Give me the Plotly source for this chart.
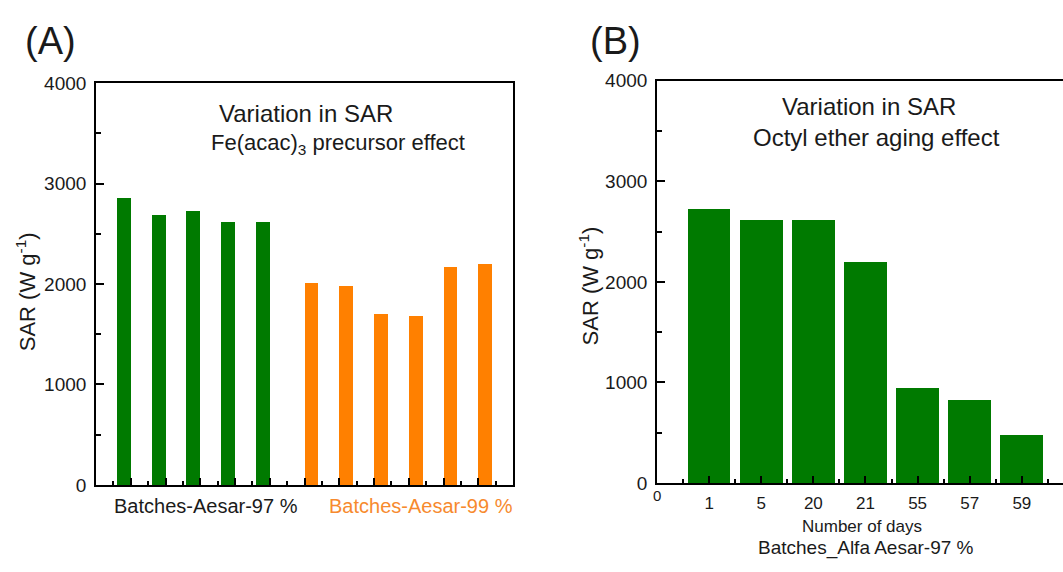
import plotly.graph_objects as go

# ---- data -------------------------------------------------------------
sar_aesar97 = [2850, 2690, 2730, 2620, 2620]          # green batches
sar_aesar99 = [2010, 1975, 1695, 1680, 2165, 2195]    # orange batches
aging_days = ["1", "5", "20", "21", "55", "57", "59"]
sar_aging = [2730, 2620, 2620, 2200, 950, 830, 475]

GREEN = "#007a00"
ORANGE = "#ff8000"
ORANGE_TXT = "#f78a2e"
FONT = "Liberation Sans, Arial, sans-serif"
W, H = 1063, 572


def px(x):
    return x / W


def py(y):
    return 1 - y / H


fig = go.Figure()

# Panel A: grouped bars (97 % batches sit left of their slot, 99 % right of it)
n97 = len(sar_aesar97)
x97 = [i + 1 - 0.2 for i in range(n97)]
x99 = [n97 + 1 + i + 0.2 for i in range(len(sar_aesar99))]
fig.add_bar(x=x97, y=sar_aesar97, width=0.4, marker=dict(color=GREEN, line_width=0),
            xaxis="x", yaxis="y", showlegend=False)
fig.add_bar(x=x99, y=sar_aesar99, width=0.4, marker=dict(color=ORANGE, line_width=0),
            xaxis="x", yaxis="y", showlegend=False)

# Panel B: SAR versus aging time
xb = list(range(1, len(aging_days) + 1))
fig.add_bar(x=xb, y=sar_aging, width=0.82, marker=dict(color=GREEN, line_width=0),
            xaxis="x2", yaxis="y2", showlegend=False)

axis_common = dict(showline=True, linecolor="black", linewidth=1.6, showgrid=False,
                   zeroline=False, ticks="inside", tickcolor="black", tickwidth=1.6)

yax = dict(axis_common, range=[0, 4000], tickmode="linear", tick0=0, dtick=1000, ticklen=8,
           tickfont=dict(family=FONT, size=19, color="#1a1a1a"), ticklabelstandoff=4,
           minor=dict(ticks="inside", ticklen=5, tickwidth=1.6, tickcolor="black",
                      tickmode="linear", tick0=500, dtick=1000))

fig.update_layout(
    width=W, height=H, margin=dict(l=0, r=0, t=0, b=0),
    paper_bgcolor="white", plot_bgcolor="white", bargap=0,
    xaxis=dict(axis_common, domain=[px(96), px(513)], range=[0, 12], mirror=True,
               tickmode="linear", tick0=0, dtick=1, ticklen=7, showticklabels=False,
               minor=dict(ticks="inside", ticklen=4, tickwidth=1.6, tickcolor="black",
                          tickmode="linear", tick0=0.5, dtick=1),
               anchor="y"),
    yaxis=dict(yax, domain=[py(493), py(76)], mirror=True, anchor="x"),
    xaxis2=dict(axis_common, domain=[px(657), 1.0], range=[0, 7.79], mirror=True,
                tickmode="array", tickvals=xb, ticktext=aging_days, ticklen=7,
                tickfont=dict(family=FONT, size=17, color="#1a1a1a"), ticklabelstandoff=4,
                minor=dict(ticks="inside", ticklen=4, tickwidth=1.6, tickcolor="black",
                           tickmode="linear", tick0=0.5, dtick=1),
                anchor="y2"),
    yaxis2=dict(yax, domain=[py(491), py(73.5)], anchor="x2"),
)

ann = []


def text(x, y, s, size, color="#1a1a1a", angle=0, xanchor="center"):
    ann.append(dict(x=px(x), y=py(y), xref="paper", yref="paper", text=s, showarrow=False,
                    font=dict(family=FONT, size=size, color=color), textangle=angle,
                    xanchor=xanchor, yanchor="middle"))


# panel letters
text(50, 32, "(A)", 38)
text(615, 32, "(B)", 38)

# in-plot titles
text(306, 107, "Variation in SAR", 24)
text(338, 139, "Fe(acac)<sub>3</sub> precursor effect", 22)
text(869, 100, "Variation in SAR", 24)
text(876, 132, "Octyl ether aging effect", 24)

# y axis titles
text(26, 293, "SAR (W g<sup>-1</sup>)", 22, angle=-90)
text(589, 287, "SAR (W g<sup>-1</sup>)", 22, angle=-90)

# panel A group labels
text(206, 515, "Batches-Aesar-97 %", 20)
text(421, 515, "Batches-Aesar-99 %", 20, color=ORANGE_TXT)

# panel B axis labels
text(657, 504, "0", 15)
text(862, 536, "Number of days", 17)
text(866, 558, "Batches_Alfa Aesar-97 %", 19)

fig.update_layout(annotations=ann)
fig.write_html("out.html")
